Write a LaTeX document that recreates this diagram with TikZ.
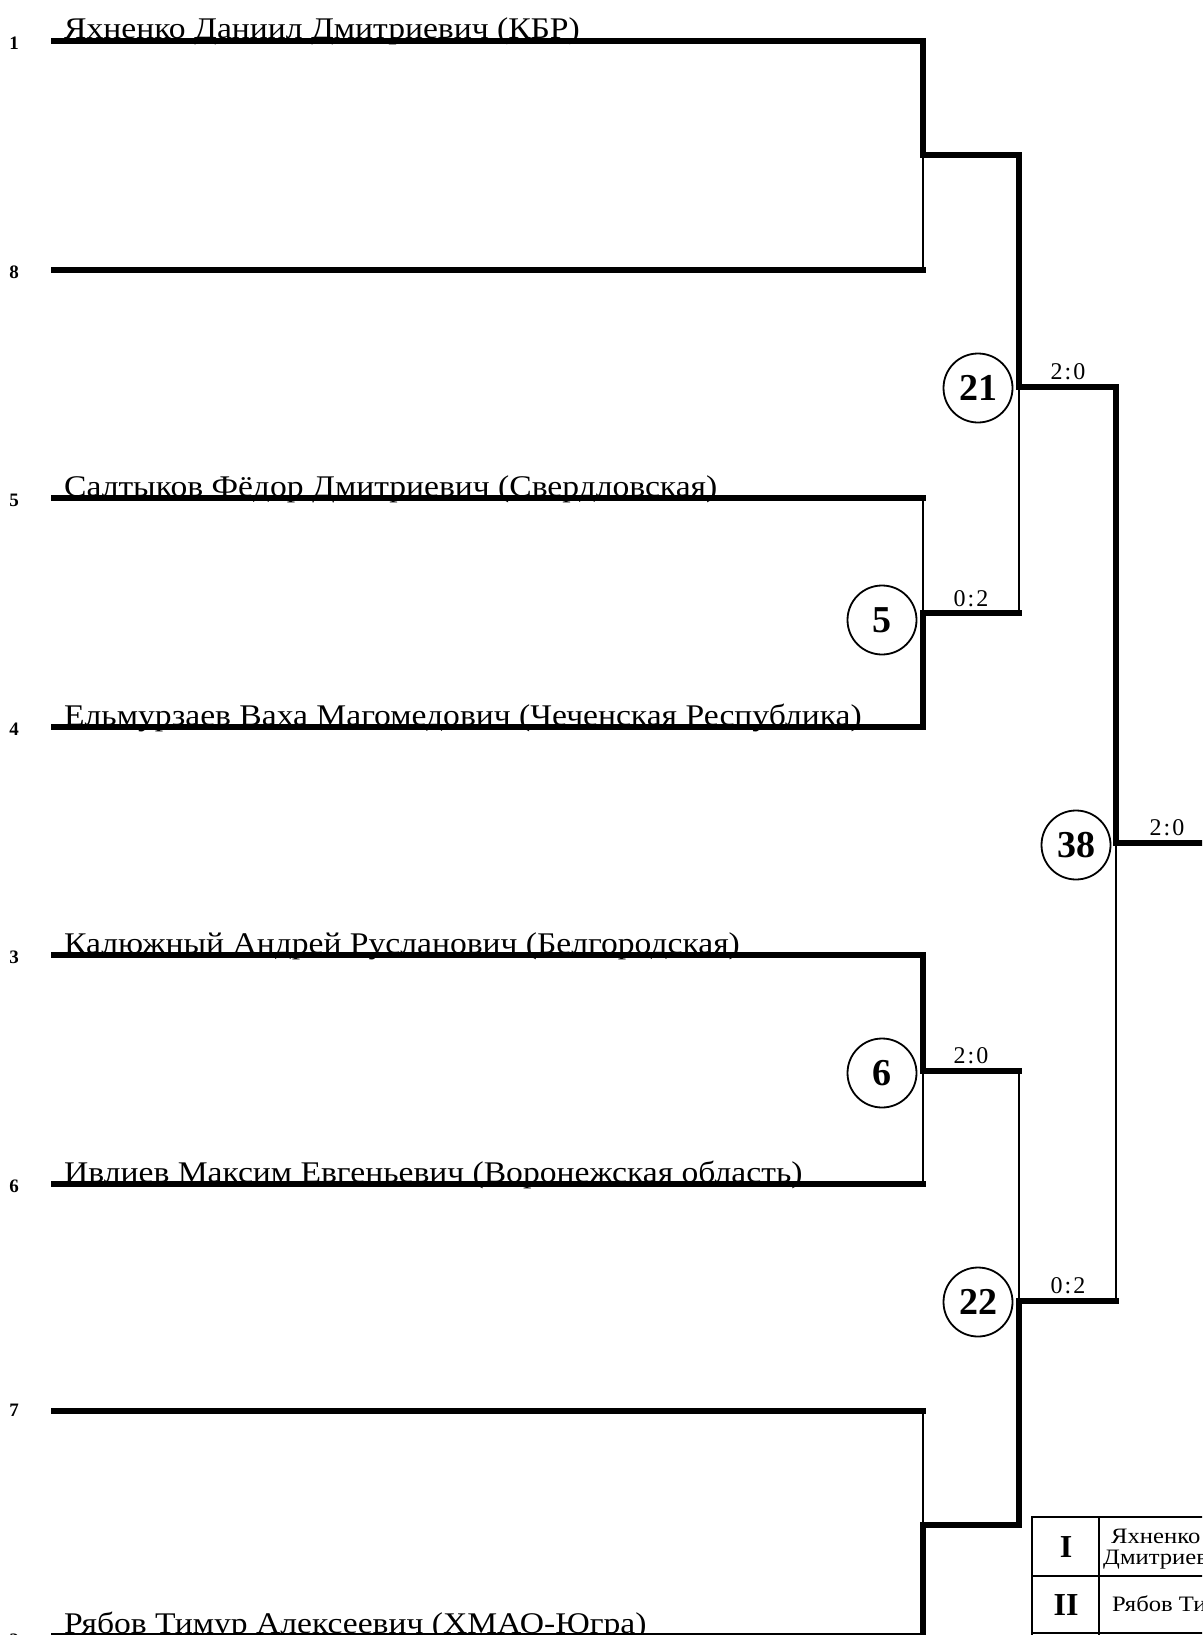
\documentclass[tikz,border=0pt]{standalone}
\usepackage{fontspec}
\setmainfont{Liberation Serif}
\newfontfamily\namefont[FakeStretch=1.12]{Liberation Serif}
\begin{document}
\begin{tikzpicture}[x=1pt,y=-1pt,
  thickln/.style={line width=5.5pt, line cap=rect, line join=miter},
  thinln/.style={line width=2pt, line cap=rect},
  tabln/.style={line width=2pt},
  pname/.style={anchor=base west, inner sep=0pt, font=\namefont\fontsize{30}{32}\selectfont},
  seed/.style={inner sep=0pt, font=\bfseries\fontsize{19}{20}\selectfont},
  bout/.style={circle, draw, line width=1.8pt, minimum size=69pt, inner sep=0pt, font=\bfseries\fontsize{38}{40}\selectfont},
  score/.style={anchor=base, inner sep=0pt, font=\fontsize{24}{25}\selectfont},
  place/.style={inner sep=0pt, font=\bfseries\fontsize{32}{34}\selectfont},
  tabtxt/.style={anchor=base west, inner sep=0pt, font=\namefont\fontsize{22}{24}\selectfont},
]
\useasboundingbox (0,0) rectangle (1202,1635);
\clip (0,0) rectangle (1202,1635);
\fill[white] (0,0) rectangle (1202,1635);

% entry line coordinates
\coordinate (s1) at (54,41);   \coordinate (e1) at (923,41);
\coordinate (s8) at (54,270);  \coordinate (e8) at (923,270);
\coordinate (s5) at (54,498);  \coordinate (e5) at (923,498);
\coordinate (s4) at (54,727);  \coordinate (e4) at (923,727);
\coordinate (s3) at (54,955);  \coordinate (e3) at (923,955);
\coordinate (s6) at (54,1184); \coordinate (e6) at (923,1184);
\coordinate (s7) at (54,1411); \coordinate (e7) at (923,1411);
\coordinate (s2) at (54,1636); \coordinate (e2) at (923,1636);
% junctions
\coordinate (j1) at (923,155);  \coordinate (k1) at (1019,155);
\coordinate (j2) at (923,613);  \coordinate (k2) at (1019,613);
\coordinate (j3) at (923,1071); \coordinate (k3) at (1019,1071);
\coordinate (j4) at (923,1525); \coordinate (k4) at (1019,1525);
\coordinate (jE) at (1019,387); \coordinate (lE) at (1116,387);
\coordinate (jF) at (1019,1301); \coordinate (lF) at (1116,1301);
\coordinate (jG) at (1116,843); \coordinate (out) at (1215,843);

% seeds
\node[seed] (n1) at (14,43) {1};
\node[seed] (n8) at (14,272) {8};
\node[seed] (n5) at (14,500) {5};
\node[seed] (n4) at (14,729) {4};
\node[seed] (n3) at (14,957) {3};
\node[seed] (n6) at (14,1186) {6};
\node[seed] (n7) at (14,1410) {7};
\node[seed] (n2) at (14,1640) {2};

% names
\node[pname] (a1) at (64,39) {Яхненко Даниил Дмитриевич (КБР)};
\node[pname] (a5) at (64,496) {Салтыков Фёдор Дмитриевич (Свердловская)};
\node[pname] (a4) at (64,725) {Ельмурзаев Ваха Магомедович (Чеченская Республика)};
\node[pname] (a3) at (64,953) {Калюжный Андрей Русланович (Белгородская)};
\node[pname] (a6) at (64,1182) {Ивлиев Максим Евгеньевич (Воронежская область)};
\node[pname] (a2) at (64,1633) {Рябов Тимур Алексеевич (ХМАО-Югра)};

% round 1
\draw[thickln] (s1) -- (e1) -- (j1);
\draw[thickln] (s8) -- (e8);
\draw[thinln] (e8) -- (j1);
\draw[thickln] (s5) -- (e5);
\draw[thinln] (e5) -- (j2);
\draw[thickln] (s4) -- (e4) -- (j2) -- (k2);
\draw[thickln] (s3) -- (e3) -- (j3) -- (k3);
\draw[thickln] (s6) -- (e6);
\draw[thinln] (e6) -- (j3);
\draw[thickln] (s7) -- (e7);
\draw[thinln] (e7) -- (j4);
\draw[thickln] (s2) -- (e2) -- (j4) -- (k4);
% round 2
\draw[thickln] (j1) -- (k1) -- (jE) -- (lE);
\draw[thinln] (jE) -- (k2);
\draw[thinln] (k3) -- (jF);
\draw[thickln] (k4) -- (jF) -- (lF);
% round 3
\draw[thickln] (lE) -- (jG) -- (out);
\draw[thinln] (jG) -- (lF);

% bouts
\node[bout] (b5) at (882,620) {5};
\node[bout] (b6) at (882,1073) {6};
\node[bout] (b21) at (978,388) {21};
\node[bout] (b22) at (978,1302) {22};
\node[bout] (b38) at (1076,845) {38};

% scores
\node[score] (sc5) at (971,606) {0\kern2pt:\kern2pt2};
\node[score] (sc6) at (971,1063) {2\kern2pt:\kern2pt0};
\node[score] (sc21) at (1068,379) {2\kern2pt:\kern2pt0};
\node[score] (sc22) at (1068,1293) {0\kern2pt:\kern2pt2};
\node[score] (sc38) at (1167,835) {2\kern2pt:\kern2pt0};

% result table
\draw[tabln] (1032,1645) -- (1032,1517) -- (1215,1517);
\draw[tabln] (1099,1517) -- (1099,1645);
\draw[tabln] (1032,1576) -- (1215,1576);
\draw[tabln] (1032,1633) -- (1215,1633);
\node[place] (p1) at (1066,1547) {I};
\node[place] (p2) at (1066,1605) {II};
\node[tabtxt] (w1) at (1111,1543) {Яхненко Даниил};
\node[tabtxt] (w1b) at (1103,1564) {Дмитриевич};
\node[tabtxt] (w2) at (1112,1611) {Рябов Тимур Алексеевич};
\end{tikzpicture}
\end{document}
